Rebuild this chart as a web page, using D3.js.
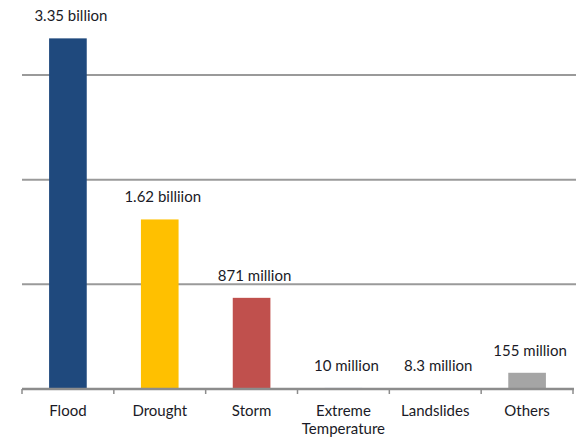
<!DOCTYPE html>
<html>
<head>
<meta charset="utf-8">
<script src="https://cdn.jsdelivr.net/npm/d3@7"></script>
<style>
  html, body { margin: 0; padding: 0; background: #fff; }
  svg text { font-family: Lato, "Open Sans", sans-serif; fill: #1a1a26; }
</style>
</head>
<body>
<svg id="chart" width="580" height="439"></svg>
<script>
// People affected by disaster type (billions)
const categories = ["Flood", "Drought", "Storm", "Extreme Temperature", "Landslides", "Others"];
const values = [3.35, 1.62, 0.871, 0.010, 0.0083, 0.155];
const valueLabels = ["3.35 billion", "1.62 billiion", "871 million", "10 million", "8.3 million", "155 million"];
const barColors = ["#1f497d", "#ffc000", "#c0504d", "#4f81bd", "#9bbb59", "#a5a5a5"];
const gridValues = [1, 2, 3];

const svg = d3.select("#chart");
const left = 22, right = 573, baseY = 389;

const x = d3.scaleBand().domain(categories).range([left, right]).paddingInner(0.59).paddingOuter(0.295);
const y = d3.scaleLinear().domain([0, 3]).range([baseY, 75]);

// horizontal gridlines
svg.append("g").selectAll("line").data(gridValues).join("line")
  .attr("x1", left).attr("x2", 576)
  .attr("y1", d => y(d)).attr("y2", d => y(d))
  .attr("stroke", "#9a9a9a").attr("stroke-width", 2);

// bars
svg.append("g").selectAll("rect").data(categories).join("rect")
  .attr("x", d => x(d))
  .attr("width", x.bandwidth())
  .attr("y", (d, i) => y(values[i]))
  .attr("height", (d, i) => baseY - y(values[i]))
  .attr("fill", (d, i) => barColors[i]);

// value labels
svg.append("g").selectAll("text").data(categories).join("text")
  .attr("x", d => x(d) + x.bandwidth() / 2 + 3)
  .attr("y", (d, i) => y(values[i]) - 17)
  .attr("text-anchor", "middle")
  .attr("font-size", 15)
  .text((d, i) => valueLabels[i]);

// category axis
const band = d3.scaleBand().domain(categories).range([left, right]);

svg.append("line").attr("x1", left).attr("x2", 574).attr("y1", baseY).attr("y2", baseY)
  .attr("stroke", "#8c8c8c").attr("stroke-width", 2.5);

// tick marks at category boundaries
const bounds = categories.map(c => band(c)).concat([right]);
svg.append("g").selectAll("line").data(bounds).join("line")
  .attr("x1", d => d).attr("x2", d => d)
  .attr("y1", baseY).attr("y2", baseY + 5)
  .attr("stroke", "#8c8c8c").attr("stroke-width", 1.5);

// category labels (wrapped)
const labelG = svg.append("g").selectAll("text").data(categories).join("text")
  .attr("x", d => band(d) + band.bandwidth() / 2)
  .attr("y", 416)
  .attr("text-anchor", "middle")
  .attr("font-size", 15);
labelG.each(function(d) {
  const words = d.split(" ");
  const t = d3.select(this);
  words.forEach((w, i) => {
    t.append("tspan").attr("x", band(d) + band.bandwidth() / 2).attr("dy", i === 0 ? 0 : 18).text(w);
  });
});
</script>
</body>
</html>
